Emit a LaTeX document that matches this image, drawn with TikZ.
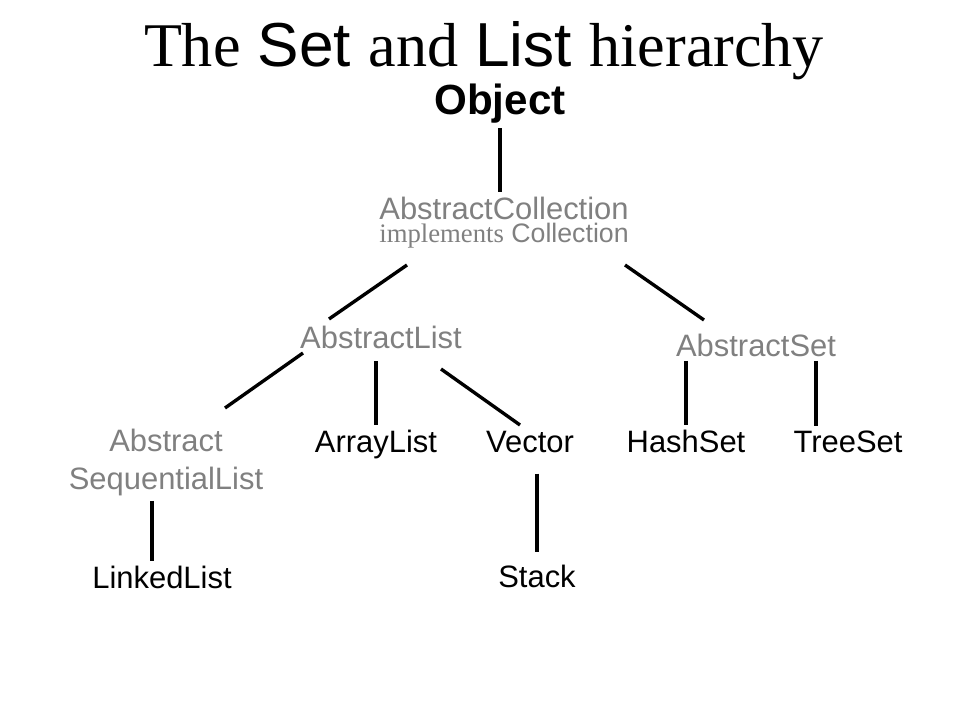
\documentclass[tikz,border=0pt]{standalone}
\usepackage{fontspec}
\setmainfont{Liberation Sans}
\newfontfamily\titleserif{Liberation Serif}
\usepackage{tikz}
\definecolor{absgray}{RGB}{128,128,128}

\begin{document}
\begin{tikzpicture}[
    cls/.style={inner sep=3pt, font=\fontsize{22}{27}\selectfont},
    abscls/.style={cls, text=absgray},
    link/.style={line width=2.4pt}]
%\draw[help lines, color=gray!30, dashed] (0,0) grid (24,18);
\useasboundingbox (0,0) rectangle (24,18);

\node[anchor=base] (title) at (12.1,16.325) {\fontsize{44.2}{53}\selectfont{\titleserif The} Set {\titleserif and} List {\titleserif hierarchy}};

\node[cls, anchor=base, font=\fontsize{30}{35}\selectfont\bfseries] (obj) at (12.5,15.125) {Object};

\node[abscls, anchor=base] (acoll) at (12.6,12.525) {AbstractCollection};
\node[abscls, anchor=base, inner sep=0pt, font=\fontsize{19}{23}\selectfont] (acollimpl) at (12.6,11.95) {{\titleserif implements} Collection};

\node[abscls, anchor=base] (alist) at (9.525,9.3) {AbstractList};
\node[abscls, anchor=base] (aset) at (18.9,9.1) {AbstractSet};

\node[abscls, anchor=north, align=center] (asl) at (4.15,7.375) {Abstract\\SequentialList};
\node[cls, anchor=base] (arr) at (9.4,6.7) {ArrayList};
\node[cls, anchor=base] (vec) at (13.25,6.7) {Vector};
\node[cls, anchor=base] (hset) at (17.15,6.7) {HashSet};
\node[cls, anchor=base] (tset) at (21.2,6.7) {TreeSet};

\node[cls, anchor=base] (lnk) at (4.05,3.3) {LinkedList};
\node[cls, anchor=base] (stk) at (13.425,3.325) {Stack};

% Object
\draw[link] (obj.south) -- (obj.south |- acoll.north);

% AbstractCollection
\draw[link] ([xshift=-2.425cm,yshift=-0.575cm]acollimpl.base) -- ([xshift=-1.3cm,yshift=0.725cm]alist.base);
\draw[link] ([xshift=3.025cm,yshift=-0.575cm]acollimpl.base) -- ([xshift=-1.3cm,yshift=0.9cm]aset.base);

% AbstractList
\draw[link] ([xshift=-1.95cm,yshift=-0.125cm]alist.base) -- ([xshift=1.475cm,yshift=0.425cm]asl.north);
\draw[link, shorten <=6pt] (alist.south -| arr.north) -- (arr.north);
\draw[link] ([xshift=1.5cm,yshift=-0.525cm]alist.base) -- ([xshift=-0.25cm,yshift=0.675cm]vec.base);

% AbstractSet
\draw[link] (aset.south -| hset.north) -- (hset.north);
\draw[link] ([xshift=-0.8cm]tset.north |- aset.south) -- ([xshift=-0.8cm]tset.north);

% leaves
\draw[link] ([xshift=-0.25cm]lnk.north |- asl.south) -- ([xshift=-0.25cm]lnk.north);
\draw[link, shorten <=12pt, shorten >=5.7pt] (vec.south -| stk.north) -- (stk.north);

\end{tikzpicture}
\end{document}
